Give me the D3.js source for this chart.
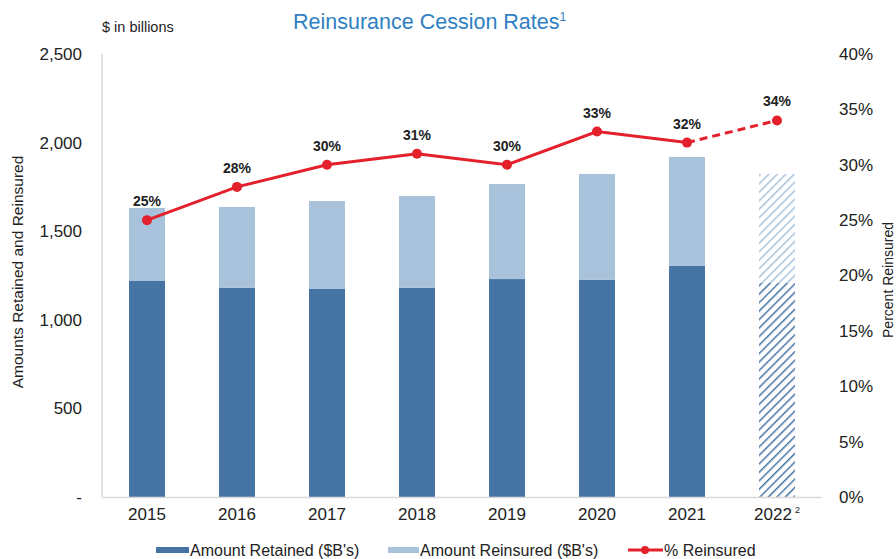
<!DOCTYPE html>
<html>
<head>
<meta charset="utf-8">
<script src="https://cdn.jsdelivr.net/npm/d3@7"></script>
<style>
  body { margin: 0; background: #fff; }
  text { font-family: "Liberation Sans", Arial, sans-serif; }
</style>
</head>
<body>
<div id="chart"></div>
<script>
// data
var years = ["2015", "2016", "2017", "2018", "2019", "2020", "2021", "2022"];
var retained = [1219, 1180, 1174, 1180, 1230, 1225, 1304, 1208];
var reinsured = [412, 457, 496, 519, 536, 598, 615, 615];
var pctReinsured = [25, 28, 30, 31, 30, 33, 32, 34];
var leftTicks = [0, 500, 1000, 1500, 2000, 2500];
var rightTicks = [0, 5, 10, 15, 20, 25, 30, 35, 40];

var W = 896, H = 559;
var darkBlue = "#4675a5", lightBlue = "#a9c2dc", red = "#e3202b";

var svg = d3.select("#chart").append("svg")
  .attr("width", W).attr("height", H);

// hatch patterns for the 2022 estimate
var defs = svg.append("defs");
function hatch(id, color) {
  var p = defs.append("pattern")
    .attr("id", id)
    .attr("patternUnits", "userSpaceOnUse")
    .attr("width", 6).attr("height", 6)
    .attr("patternTransform", "rotate(45)");
  p.append("line")
    .attr("x1", 0).attr("y1", 0).attr("x2", 0).attr("y2", 6)
    .attr("stroke", color).attr("stroke-width", 3);
}
hatch("hatchDark", darkBlue);
hatch("hatchLight", lightBlue);

var x = d3.scaleBand().domain(years).range([102, 822]);
var y = d3.scaleLinear().domain([0, 2500]).range([497, 54]);
var y2 = d3.scaleLinear().domain([0, 40]).range([497, 54]);
var barW = 36;

// left axis line
svg.append("line").attr("x1", 102).attr("x2", 102).attr("y1", 54).attr("y2", 497)
  .attr("stroke", "#d9d9d9").attr("stroke-width", 1.5);

// left axis
var fmt = d3.format(",");
var yAxis = svg.append("g")
  .attr("transform", "translate(85,0)")
  .call(d3.axisLeft(y).tickValues(leftTicks).tickSize(0)
    .tickFormat(function (d) { return d === 0 ? "-" : fmt(d); }));
yAxis.select(".domain").remove();
yAxis.selectAll("text").attr("font-size", 17).attr("fill", "#222");

// right axis
var y2Axis = svg.append("g")
  .attr("transform", "translate(836,0)")
  .call(d3.axisRight(y2).tickValues(rightTicks).tickSize(0)
    .tickFormat(function (d) { return d + "%"; }));
y2Axis.select(".domain").remove();
y2Axis.selectAll("text").attr("font-size", 17).attr("fill", "#222");

// bars
var rows = years.map(function (yr, i) {
  return { year: yr, retained: retained[i], reinsured: reinsured[i], pct: pctReinsured[i], est: yr === "2022" };
});

var bars = svg.append("g").selectAll("g").data(rows).enter().append("g");
bars.append("rect")
  .attr("x", function (d) { return x(d.year) + x.bandwidth() / 2 - barW / 2; })
  .attr("width", barW)
  .attr("y", function (d) { return y(d.retained); })
  .attr("height", function (d) { return y(0) - y(d.retained); })
  .attr("fill", function (d) { return d.est ? "url(#hatchDark)" : darkBlue; });
bars.append("rect")
  .attr("x", function (d) { return x(d.year) + x.bandwidth() / 2 - barW / 2; })
  .attr("width", barW)
  .attr("y", function (d) { return y(d.retained + d.reinsured); })
  .attr("height", function (d) { return y(d.retained) - y(d.retained + d.reinsured); })
  .attr("fill", function (d) { return d.est ? "url(#hatchLight)" : lightBlue; });

svg.append("line").attr("x1", 102).attr("x2", 822).attr("y1", 497.5).attr("y2", 497.5)
  .attr("stroke", "#d9d9d9").attr("stroke-width", 1.5);

// x labels
var xAxis = svg.append("g")
  .attr("transform", "translate(0,505)")
  .call(d3.axisBottom(x).tickSize(0));
xAxis.select(".domain").remove();
xAxis.selectAll("text").attr("font-size", 17).attr("fill", "#222");
xAxis.selectAll(".tick").filter(function (d) { return d === "2022"; }).select("text")
  .append("tspan").attr("font-size", 9).attr("dy", -7).attr("dx", 3).text("2");

// percent line
var cx = function (d) { return x(d.year) + x.bandwidth() / 2; };
var line = d3.line().x(cx).y(function (d) { return y2(d.pct); });
svg.append("path").datum(rows.slice(0, 7))
  .attr("d", line).attr("fill", "none").attr("stroke", red).attr("stroke-width", 3);
svg.append("path").datum(rows.slice(6))
  .attr("d", line).attr("fill", "none").attr("stroke", red).attr("stroke-width", 3)
  .attr("stroke-dasharray", "8,5");
svg.append("g").selectAll("circle").data(rows).enter().append("circle")
  .attr("cx", cx).attr("cy", function (d) { return y2(d.pct); })
  .attr("r", 5).attr("fill", red);
svg.append("g").selectAll("text").data(rows).enter().append("text")
  .attr("x", cx).attr("y", function (d) { return y2(d.pct) - 14; })
  .attr("text-anchor", "middle").attr("font-size", 14).attr("font-weight", "bold")
  .attr("fill", "#222")
  .text(function (d) { return d.pct + "%"; });

// titles
var title = svg.append("text").attr("x", 293).attr("y", 29)
  .attr("font-size", 21.5).attr("fill", "#2f80c3").text("Reinsurance Cession Rates");
title.append("tspan").attr("font-size", 12).attr("dy", -8).text("1");
svg.append("text").attr("x", 102).attr("y", 32).attr("font-size", 14.5).attr("fill", "#222")
  .text("$ in billions");
svg.append("text").attr("transform", "translate(23,272) rotate(-90)")
  .attr("text-anchor", "middle").attr("font-size", 15.5).attr("fill", "#222")
  .text("Amounts Retained and Reinsured");
svg.append("text").attr("transform", "translate(893,280) rotate(-90)")
  .attr("text-anchor", "middle").attr("font-size", 14).attr("fill", "#222")
  .text("Percent Reinsured");

// legend
var lg = svg.append("g").attr("transform", "translate(0,550)");
lg.append("rect").attr("x", 156).attr("y", -3).attr("width", 33).attr("height", 6).attr("fill", darkBlue);
lg.append("text").attr("x", 190).attr("y", 6).attr("font-size", 16).attr("fill", "#222")
  .text("Amount Retained ($B's)");
lg.append("rect").attr("x", 388).attr("y", -3).attr("width", 31).attr("height", 6).attr("fill", lightBlue);
lg.append("text").attr("x", 420).attr("y", 6).attr("font-size", 16).attr("fill", "#222")
  .text("Amount Reinsured ($B's)");
lg.append("line").attr("x1", 628).attr("x2", 663).attr("y1", 0).attr("y2", 0)
  .attr("stroke", red).attr("stroke-width", 3);
lg.append("circle").attr("cx", 645).attr("cy", 0).attr("r", 4).attr("fill", red);
lg.append("text").attr("x", 664).attr("y", 6).attr("font-size", 16).attr("fill", "#222")
  .text("% Reinsured");
</script>
</body>
</html>
